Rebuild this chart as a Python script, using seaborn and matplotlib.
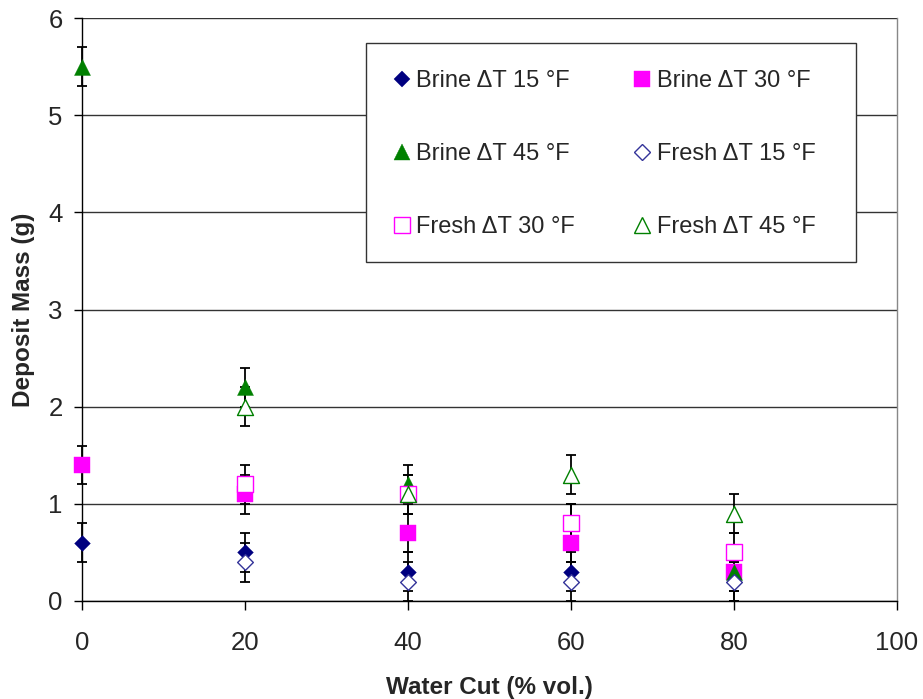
import matplotlib
matplotlib.use("Agg")
import matplotlib.pyplot as plt
from matplotlib.patches import Rectangle
import seaborn as sns
import pandas as pd

sns.set_style("white")
plt.rcParams['font.family'] = ['Liberation Sans', 'DejaVu Sans']

water_cut_brine = [0, 20, 40, 60, 80]
water_cut_fresh = [20, 40, 60, 80]

brine_15 = [0.6, 0.5, 0.3, 0.3, 0.2]
brine_30 = [1.4, 1.1, 0.7, 0.6, 0.3]
brine_45 = [5.5, 2.2, 1.2, 0.8, 0.3]
fresh_15 = [0.4, 0.2, 0.2, 0.2]
fresh_30 = [1.2, 1.1, 0.8, 0.5]
fresh_45 = [2.0, 1.1, 1.3, 0.9]
err = 0.2

series = [
    ("Brine \u0394T 15 \u00b0F", water_cut_brine, brine_15, "D", "#000080", True, 8),
    ("Brine \u0394T 30 \u00b0F", water_cut_brine, brine_30, "s", "#FF00FF", True, 11),
    ("Brine \u0394T 45 \u00b0F", water_cut_brine, brine_45, "^", "#008000", True, 11.5),
    ("Fresh \u0394T 15 \u00b0F", water_cut_fresh, fresh_15, "D", "#333399", False, 8),
    ("Fresh \u0394T 30 \u00b0F", water_cut_fresh, fresh_30, "s", "#FF00FF", False, 11),
    ("Fresh \u0394T 45 \u00b0F", water_cut_fresh, fresh_45, "^", "#008000", False, 11.5),
]

W, H = 923, 699
fig = plt.figure(figsize=(W / 100, H / 100), dpi=100)
ax = fig.add_axes([82 / W, 1 - 601 / H, 815 / W, 583 / H])

handles = []
for name, xs, ys, mk, col, filled, ms in series:
    df = pd.DataFrame({"x": xs, "y": ys})
    ax.errorbar(df["x"], df["y"], yerr=err, fmt="none", ecolor="black",
                elinewidth=1.3, capsize=3.6, capthick=1.3, zorder=2, clip_on=False)
    sns.scatterplot(data=df, x="x", y="y", ax=ax, marker=mk, s=ms ** 2,
                    facecolor=col if filled else "white",
                    edgecolor=col, linewidth=1.0 if not filled else 0.3,
                    zorder=3, clip_on=False, legend=False)
    h = plt.Line2D([], [], linestyle="none", marker=mk, markersize=ms,
                   markerfacecolor=col if filled else "white",
                   markeredgecolor=col, markeredgewidth=1.0 if not filled else 0.3,
                   label=name)
    handles.append(h)

ax.set_xlim(0, 100)
ax.set_ylim(0, 6)
ax.set_xticks([0, 20, 40, 60, 80, 100])
ax.set_yticks([0, 1, 2, 3, 4, 5, 6])
ax.yaxis.grid(True, color="#333333", linewidth=1.0)
ax.xaxis.grid(False)
ax.set_axisbelow(True)
ax.spines["top"].set_visible(False)
ax.spines["right"].set_visible(True)
ax.spines["right"].set_color("#888888")
ax.spines["right"].set_linewidth(1.0)
for s in ["left", "bottom"]:
    ax.spines[s].set_color("black")
    ax.spines[s].set_linewidth(1.0)
ax.tick_params(axis="x", direction="out", length=6.5, width=1, color="black",
               labelsize=18.5, bottom=True, pad=15)
ax.tick_params(axis="y", direction="out", length=6, width=1, color="black",
               labelsize=18.5, left=True, pad=8)
ax.set_xlabel("Water Cut (% vol.)", fontsize=17.5, fontweight="bold")
ax.set_ylabel("Deposit Mass (g)", fontsize=17.5, fontweight="bold")
ax.xaxis.set_label_coords(0.5, -0.128)
ax.yaxis.set_label_coords(-0.058, 0.5)

# legend frame box
box = Rectangle((366 / W, 1 - 262 / H), (856 - 366) / W, (262 - 43) / H,
                transform=fig.transFigure, facecolor="white", edgecolor="#333333",
                linewidth=1.0, zorder=1)
fig.patches.append(box)

order = [0, 2, 4, 1, 3, 5]
leg = fig.legend(handles=[handles[i] for i in order], loc="upper left",
                 bbox_to_anchor=(362 / W, 1 - 43 / H), ncol=2, fontsize=17,
                 frameon=False,
                 labelspacing=2.16, columnspacing=2.3, handletextpad=0.05,
                 handlelength=1.1, borderpad=1.15, borderaxespad=0)

fig.savefig("out.png", dpi=100)
